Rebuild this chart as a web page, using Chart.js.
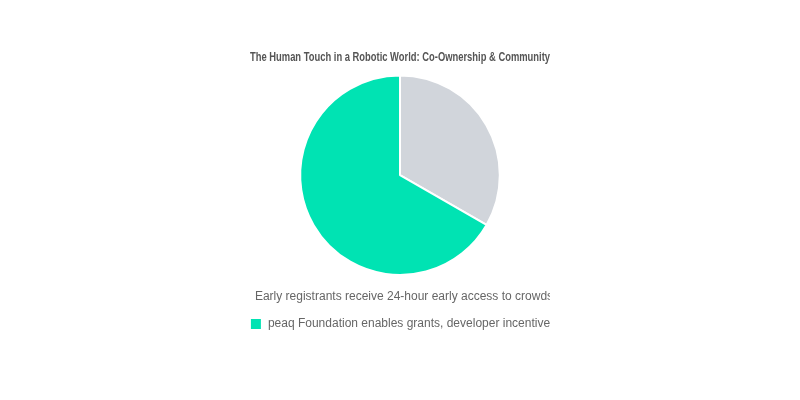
<!DOCTYPE html>
<html>
<head>
<meta charset="utf-8">
<script src="https://cdn.jsdelivr.net/npm/chart.js@4"></script>
<style>
	html, body { margin: 0; padding: 0; background: #fff; }
	#wrap { position: absolute; left: 250px; top: 40px; width: 300px; height: 300px; }
</style>
</head>
<body>
<div id="wrap"><canvas id="pieCommunity"></canvas></div>
<script>
	// Slices
	var sliceLabels = [
		"Early registrants receive 24-hour early access to crowds...",
		"peaq Foundation enables grants, developer incentive"
	];
	var sliceValues = [33.3, 66.7];
	var sliceColors = ["#D1D5DB", "#00E3B3"];

	var chartTitle = "The Human Touch in a Robotic World: Co-Ownership & Community";

	Chart.defaults.font.family = "'Liberation Sans', Arial, sans-serif";

	var ctx = document.getElementById('pieCommunity');
	new Chart(ctx, {
		type: 'pie',
		data: {
			labels: sliceLabels,
			datasets: [{
				data: sliceValues,
				backgroundColor: sliceColors,
				borderColor: '#fff',
				borderWidth: 2
			}]
		},
		options: {
			responsive: true,
			maintainAspectRatio: false,
			animation: false,
			plugins: {
				title: {
					display: true,
					text: chartTitle,
					color: '#555',
					font: { size: 12, weight: 'bold' }
				},
				legend: {
					position: 'bottom',
					labels: {
						color: '#666',
						boxWidth: 12,
						boxHeight: 12,
						padding: 15,
						font: { size: 12 }
					}
				}
			}
		}
	});
</script>
</body>
</html>
